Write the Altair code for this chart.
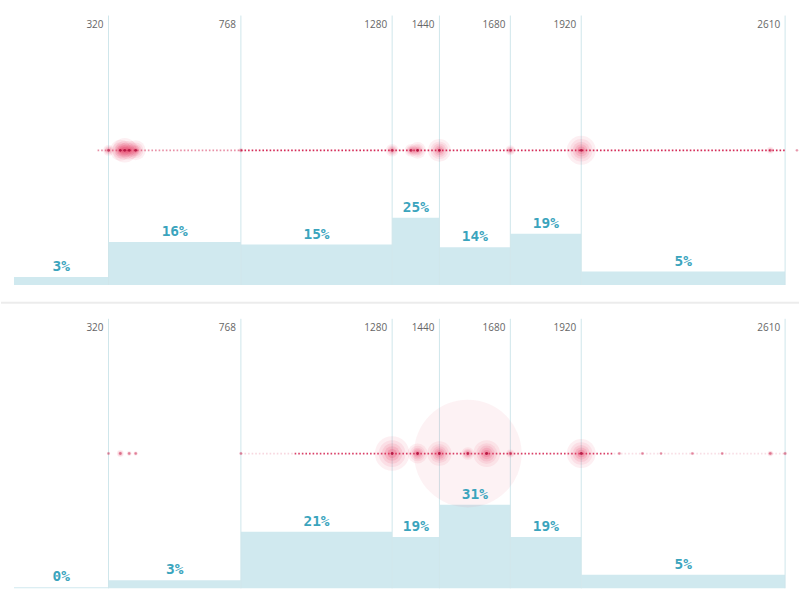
import altair as alt
import pandas as pd

# ---- data ----
breakpoints = [0, 320, 768, 1280, 1440, 1680, 1920, 2610]
tick_values = [320, 768, 1280, 1440, 1680, 1920, 2610]
share_top = [3, 16, 15, 25, 14, 19, 5]
share_bottom = [0.4, 3, 21, 19, 31, 19, 5]

# screen widths seen (dots) and their weight (visits)
pts_top_w = [320, 360, 375, 390, 412, 768, 1280, 1344, 1366, 1440, 1680, 1920, 2560, 2650]
pts_top_v = [30, 110, 150, 90, 100, 6, 40, 40, 70, 130, 25, 210, 12, 2]
pts_bot_w = [320, 360, 390, 412, 768, 1280, 1366, 1440, 1536, 1600, 1680, 1920,
             2049, 2127, 2190, 2296, 2397, 2560, 2610]
pts_bot_v = [3, 12, 6, 5, 3, 300, 100, 150, 40, 180, 16, 210,
             3, 3, 2, 3, 3, 8, 4]
ring_bot_w = [1536]
ring_bot_v = [2916]

# dotted-line segments (start width, end width, strength)
seg_top_start = [283, 768]
seg_top_end = [768, 2610]
seg_top_alpha = [0.5, 0.95]
seg_bot_start = [768, 950, 2030]
seg_bot_end = [950, 2030, 2610]
seg_bot_alpha = [0.18, 0.85, 0.15]

# ---- styles ----
BAR = "#d0e9ef"
LBL = "#3aa4bd"
GRID = "#cfe6eb"
RED = "#e8355f"
DARK = "#b3123e"

X = alt.Scale(domain=[0, 2657])
Y = alt.Scale(domain=[0, 105.5])
SIZE = alt.Scale(domain=[0, 3000], range=[0, 12000])
W, H = 787, 285


def xenc(field):
    return alt.X(f"{field}:Q", scale=X, axis=None)


def yenc(field):
    return alt.Y(f"{field}:Q", scale=Y, axis=None)


def panel(shares, pw, pv, s0, s1, sa, ring_w=None, ring_v=None, separator=False):
    bars = pd.DataFrame({
        "start": breakpoints[:-1],
        "end": breakpoints[1:],
        "share": shares,
    })
    ticks = pd.DataFrame({"v": tick_values})
    pts = pd.DataFrame({"width": pw, "weight": pv})
    segs = pd.DataFrame({"start": s0, "end": s1, "alpha": sa})

    layers = []
    layers.append(
        alt.Chart(bars).transform_calculate(base="0").mark_rect(color=BAR).encode(
            x=xenc("start"), x2="end:Q", y=yenc("share"), y2="base:Q"
        )
    )
    if separator:
        layers.append(
            alt.Chart(ticks).transform_filter("datum.v == 320").transform_calculate(yy="106")
            .mark_rule(color="#ececec", strokeWidth=2).encode(
                x=alt.value(-13), x2=alt.value(W), y=yenc("yy")
            )
        )
    layers.append(
        alt.Chart(ticks).transform_calculate(y0="0", y1="100").mark_rule(color=GRID, strokeWidth=1).encode(
            x=xenc("v"), y=yenc("y0"), y2="y1:Q"
        )
    )
    layers.append(
        alt.Chart(ticks).transform_calculate(yy="96.4").mark_text(
            align="right", baseline="middle", dx=-5, font="Open Sans", fontSize=10, color="#666"
        ).encode(x=xenc("v"), y=yenc("yy"), text="v:Q")
    )
    layers.append(
        alt.Chart(segs).transform_calculate(yy="50")
        .mark_rule(color="#d21f4e", strokeWidth=1.7, strokeDash=[1.6, 2.0]).encode(
            x=xenc("start"), x2="end:Q", y=yenc("yy"),
            opacity=alt.Opacity("alpha:Q", scale=None),
        )
    )
    if ring_w is not None:
        ring = pd.DataFrame({"width": ring_w, "weight": ring_v})
        layers.append(
            alt.Chart(ring).transform_calculate(yy="50").mark_circle(color=RED, opacity=0.065).encode(
                x=xenc("width"), y=yenc("yy"),
                size=alt.Size("weight:Q", scale=SIZE, legend=None),
            )
        )
    for mult, op in [(1.0, 0.08), (0.6, 0.09), (0.35, 0.11), (0.18, 0.14), (0.07, 0.2)]:
        layers.append(
            alt.Chart(pts).transform_calculate(yy="50", w=f"datum.weight*{mult}")
            .mark_circle(color=RED, opacity=op).encode(
                x=xenc("width"), y=yenc("yy"),
                size=alt.Size("w:Q", scale=SIZE, legend=None),
            )
        )
    layers.append(
        alt.Chart(pts).transform_calculate(yy="50").mark_circle(color=DARK, size=8).encode(
            x=xenc("width"), y=yenc("yy"),
            opacity=alt.Opacity("weight:Q", scale=alt.Scale(domain=[0, 60], range=[0.2, 0.9], clamp=True),
                                legend=None),
        )
    )
    layers.append(
        alt.Chart(bars).transform_calculate(
            label="format(datum.share, '.0f') + '%'",
            mid="(datum.start + datum.end) / 2",
        ).mark_text(
            baseline="bottom", dy=-3, font="DejaVu Sans Mono", fontWeight="bold", fontSize=14.5, color=LBL
        ).encode(x=xenc("mid"), y=yenc("share"), text="label:N")
    )
    return alt.layer(*layers).properties(width=W, height=H)


top = panel(share_top, pts_top_w, pts_top_v, seg_top_start, seg_top_end, seg_top_alpha)
bottom = panel(share_bottom, pts_bot_w, pts_bot_v, seg_bot_start, seg_bot_end, seg_bot_alpha,
               ring_bot_w, ring_bot_v, separator=True)

chart = alt.vconcat(top, bottom, spacing=15).properties(
    padding={"left": 0, "top": 0, "right": 0, "bottom": 0},
    background="white",
).configure_view(stroke=None)

chart.save("out.html", embed_options={"renderer": "svg", "actions": False})
